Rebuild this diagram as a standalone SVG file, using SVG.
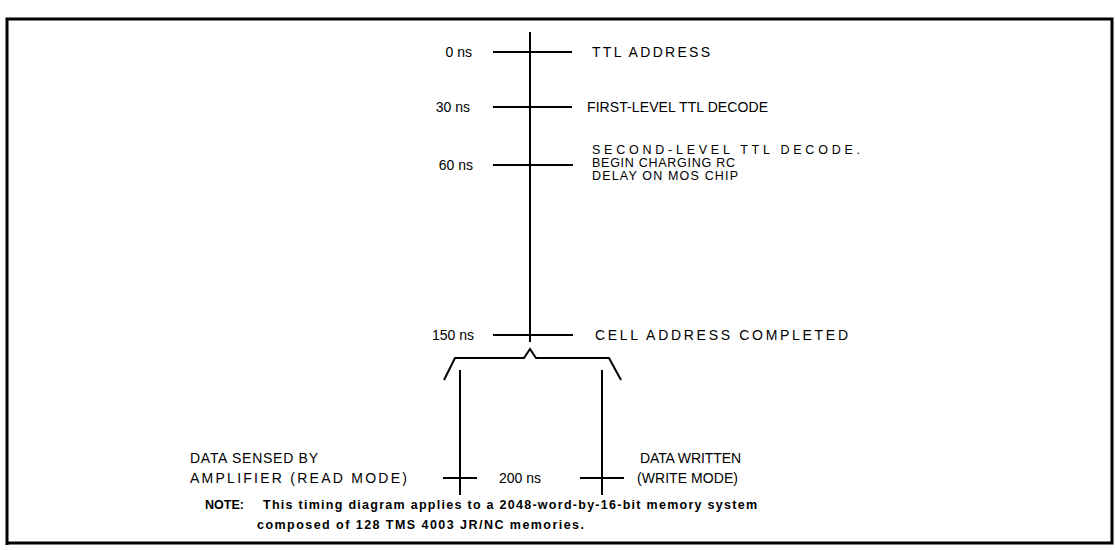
<svg xmlns="http://www.w3.org/2000/svg" width="1115" height="550" viewBox="0 0 1115 550">
<style>
.t{font-family:"Liberation Sans",Arial,sans-serif;font-size:14px;fill:#000}
.s{font-family:"Liberation Sans",Arial,sans-serif;font-size:12.5px;fill:#000}
.n{font-family:"Liberation Sans",Arial,sans-serif;font-size:12.5px;font-weight:bold;fill:#000}
.ln{stroke:#000;stroke-width:2;fill:none}
</style>
<rect width="1115" height="550" fill="#fff"/>
<path d="M7 545 V19 H1112 V543 H7" stroke="#000" stroke-width="3" fill="none"/>
<g id="connectors">
<line class="ln" x1="530" y1="32" x2="530" y2="342"/>
<path class="ln" d="M444 380 L455 358 H524 L530 349 L536 358 H609 L621 380"/>
<line class="ln" x1="460" y1="370" x2="460" y2="495"/>
<line class="ln" x1="602" y1="370" x2="602" y2="495"/>
</g>
<g id="t0"><line class="ln" x1="493" y1="52" x2="572" y2="52"/>
<text class="t" x="472" y="57" text-anchor="end">0 ns</text>
<text class="t" x="592" y="57" textLength="118">TTL ADDRESS</text></g>
<g id="t30"><line class="ln" x1="493" y1="107" x2="572" y2="107"/>
<text class="t" x="470" y="112" text-anchor="end">30 ns</text>
<text class="t" x="587" y="112" textLength="181">FIRST-LEVEL TTL DECODE</text></g>
<g id="t60"><line class="ln" x1="493" y1="165" x2="573" y2="165"/>
<text class="t" x="473" y="170" text-anchor="end">60 ns</text>
<text class="s" x="592" y="154" textLength="268">SECOND-LEVEL TTL DECODE.</text>
<text class="s" x="592" y="167" textLength="143">BEGIN CHARGING RC</text>
<text class="s" x="592" y="180" textLength="146">DELAY ON MOS CHIP</text></g>
<g id="t150"><line class="ln" x1="493" y1="335" x2="573" y2="335"/>
<text class="t" x="474" y="340" text-anchor="end">150 ns</text>
<text class="t" x="595" y="340" textLength="253">CELL ADDRESS COMPLETED</text></g>
<g id="read"><line class="ln" x1="443" y1="478" x2="477" y2="478"/>
<text class="t" x="190" y="463" textLength="128">DATA SENSED BY</text>
<text class="t" x="190" y="483" textLength="217">AMPLIFIER (READ MODE)</text></g>
<g id="t200"><text class="t" x="499" y="483">200 ns</text></g>
<g id="write"><line class="ln" x1="580" y1="478" x2="624" y2="478"/>
<text class="t" x="640" y="463" textLength="101">DATA WRITTEN</text>
<text class="t" x="637" y="483" textLength="101">(WRITE MODE)</text></g>
<g id="note">
<text class="n" x="205" y="509">NOTE:</text>
<text class="n" x="263" y="509" textLength="494">This timing diagram applies to a 2048-word-by-16-bit memory system</text>
<text class="n" x="257" y="529" textLength="327">composed of 128 TMS 4003 JR/NC memories.</text>
</g>
</svg>
